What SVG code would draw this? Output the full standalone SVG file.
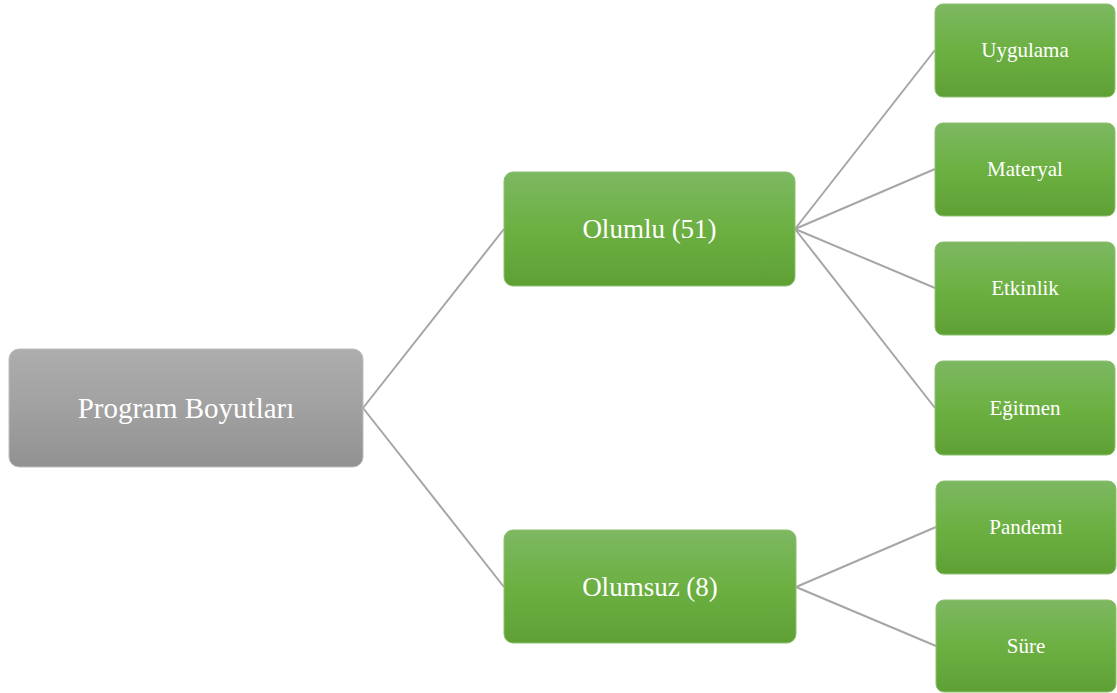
<svg xmlns="http://www.w3.org/2000/svg" width="1117" height="693" viewBox="0 0 1117 693">
  <defs>
    <linearGradient id="gGreen" x1="0" y1="0" x2="0" y2="1">
      <stop offset="0" stop-color="#7db862"/>
      <stop offset="0.5" stop-color="#6cb042"/>
      <stop offset="1" stop-color="#5fa034"/>
    </linearGradient>
    <linearGradient id="gGray" x1="0" y1="0" x2="0" y2="1">
      <stop offset="0" stop-color="#adadad"/>
      <stop offset="0.5" stop-color="#a1a1a1"/>
      <stop offset="1" stop-color="#919191"/>
    </linearGradient>
  </defs>
  <style>
    .box { fill: url(#gGreen); stroke: #8cc06f; stroke-width: 1; }
    .root { fill: url(#gGray); stroke: #bdbdbd; stroke-width: 1; }
    .conn { stroke: #a6a6a6; stroke-width: 2; fill: none; }
    .lbl { font-family: "Liberation Serif", "Times New Roman", serif; fill: #ffffff; text-anchor: middle; }
    .t1 { font-size: 29px; }
    .t2 { font-size: 27px; }
    .t3 { font-size: 21px; }
  </style>
  <rect width="1117" height="693" fill="#ffffff"/>
  <g id="connectors">
    <line class="conn" x1="363" y1="408" x2="504" y2="229"/>
    <line class="conn" x1="363" y1="408" x2="504" y2="587"/>
    <line class="conn" x1="795" y1="229" x2="935" y2="50"/>
    <line class="conn" x1="795" y1="229" x2="935" y2="169"/>
    <line class="conn" x1="795" y1="229" x2="935" y2="288"/>
    <line class="conn" x1="795" y1="229" x2="935" y2="408"/>
    <line class="conn" x1="796" y1="587" x2="936" y2="527"/>
    <line class="conn" x1="796" y1="587" x2="936" y2="646"/>
  </g>
  <g id="root">
    <rect class="root" x="9" y="349" width="354" height="118" rx="10"/>
    <text class="lbl t1" x="186" y="418">Program Boyutları</text>
  </g>
  <g id="olumlu">
    <rect class="box" x="504" y="172" width="291" height="114" rx="9"/>
    <text class="lbl t2" x="649.5" y="238">Olumlu (51)</text>
  </g>
  <g id="olumsuz">
    <rect class="box" x="504" y="530" width="292" height="113" rx="9"/>
    <text class="lbl t2" x="650" y="596">Olumsuz (8)</text>
  </g>
  <g id="uygulama">
    <rect class="box" x="935" y="4" width="180" height="93" rx="8"/>
    <text class="lbl t3" x="1025" y="57">Uygulama</text>
  </g>
  <g id="materyal">
    <rect class="box" x="935" y="123" width="180" height="93" rx="8"/>
    <text class="lbl t3" x="1025" y="176">Materyal</text>
  </g>
  <g id="etkinlik">
    <rect class="box" x="935" y="242" width="180" height="93" rx="8"/>
    <text class="lbl t3" x="1025" y="295">Etkinlik</text>
  </g>
  <g id="egitmen">
    <rect class="box" x="935" y="361" width="180" height="94" rx="8"/>
    <text class="lbl t3" x="1025" y="415">Eğitmen</text>
  </g>
  <g id="pandemi">
    <rect class="box" x="936" y="481" width="180" height="93" rx="8"/>
    <text class="lbl t3" x="1026" y="534">Pandemi</text>
  </g>
  <g id="sure">
    <rect class="box" x="936" y="600" width="180" height="92" rx="8"/>
    <text class="lbl t3" x="1026" y="653">Süre</text>
  </g>
</svg>
